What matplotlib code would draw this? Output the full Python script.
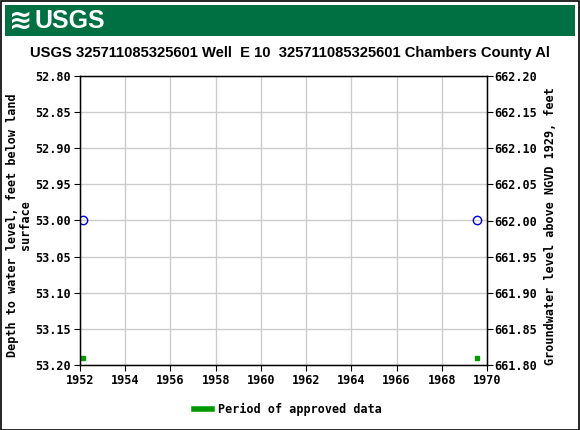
import matplotlib
matplotlib.use("Agg")
import matplotlib.pyplot as plt
from matplotlib.patches import Rectangle

title = "USGS 325711085325601 Well  E 10  325711085325601 Chambers County Al"
years = [1952.13, 1969.56]
depths = [53.00, 53.00]
approved_years = [1952.13, 1969.56]
approved_depth = [53.19, 53.19]
xticks = list(range(1952, 1971, 2))
yticks = [52.80, 52.85, 52.90, 52.95, 53.00, 53.05, 53.10, 53.15, 53.20]
datum_offset = 715.0  # 662.00 = 715 - 53.00

mono = {"family": "DejaVu Sans Mono", "weight": "bold", "size": 8.5}

fig = plt.figure(figsize=(5.8, 4.3), dpi=100)
fig.patch.set_facecolor("white")
# outer border
fig.add_artist(Rectangle((0.001, 0.001), 0.997, 0.997, transform=fig.transFigure,
                         fill=False, edgecolor="black", linewidth=1.2))
# header band
fig.add_artist(Rectangle((5/580, 1 - 36/430), 570/580, 31/430, transform=fig.transFigure,
                         facecolor="#006F41", edgecolor="none"))
fig.text(9/580, 1 - 21/430, "≋", color="white", fontsize=20, fontweight="bold",
         family=["DejaVu Sans"], va="center", ha="left")
fig.text(34/580, 1 - 21/430, "USGS", color="white", fontsize=18, fontweight="bold",
         family=["Liberation Sans"], va="center", ha="left")

ax = fig.add_axes([80/580, 1 - 365/430, 407/580, 289/430])
ax.set_xlim(1952, 1970)
ax.set_ylim(53.20, 52.80)
ax.set_xticks(xticks)
ax.set_yticks(yticks)
ax.set_xticklabels([str(x) for x in xticks], fontdict=mono)
ax.set_yticklabels([f"{y:.2f}" for y in yticks], fontdict=mono)
ax.grid(True, color="#cccccc", linewidth=1)
ax.set_axisbelow(True)
ax.tick_params(direction="out", length=4, pad=2.5)
for s in ax.spines.values():
    s.set_linewidth(1)

ax.plot(years, depths, linestyle="none", marker="o", markersize=6,
        markerfacecolor="none", markeredgecolor="#0000cc", markeredgewidth=1)
ax.plot(approved_years, approved_depth, linestyle="none", marker="s", markersize=3.5,
        color="#009900")

ax2 = ax.twinx()
ax2.set_ylim(datum_offset - 53.20, datum_offset - 52.80)
r_ticks = [datum_offset - y for y in yticks]
ax2.set_yticks(r_ticks)
ax2.set_yticklabels([f"{t:.2f}" for t in r_ticks], fontdict=mono)
ax2.tick_params(direction="out", length=4, pad=1.5)

fig.text(19/580, 1 - 225/430, "Depth to water level, feet below land\nsurface",
         rotation=90, ha="center", va="center", multialignment="center",
         linespacing=1.0, **mono)
fig.text(551/580, 1 - 226/430, "Groundwater level above NGVD 1929, feet",
         rotation=90, ha="center", va="center", **mono)

fig.text(0.5, 1 - 53/430, title, ha="center", va="center", fontsize=10.6,
         fontweight="bold", family=["Liberation Sans"])

# legend
fig.add_artist(plt.Line2D([194/580, 212/580], [1 - 409/430, 1 - 409/430],
                          transform=fig.transFigure, color="#009900", linewidth=4))
fig.text(218/580, 1 - 409/430, "Period of approved data", va="center", ha="left", **mono)

fig.savefig("out.png", dpi=100)
